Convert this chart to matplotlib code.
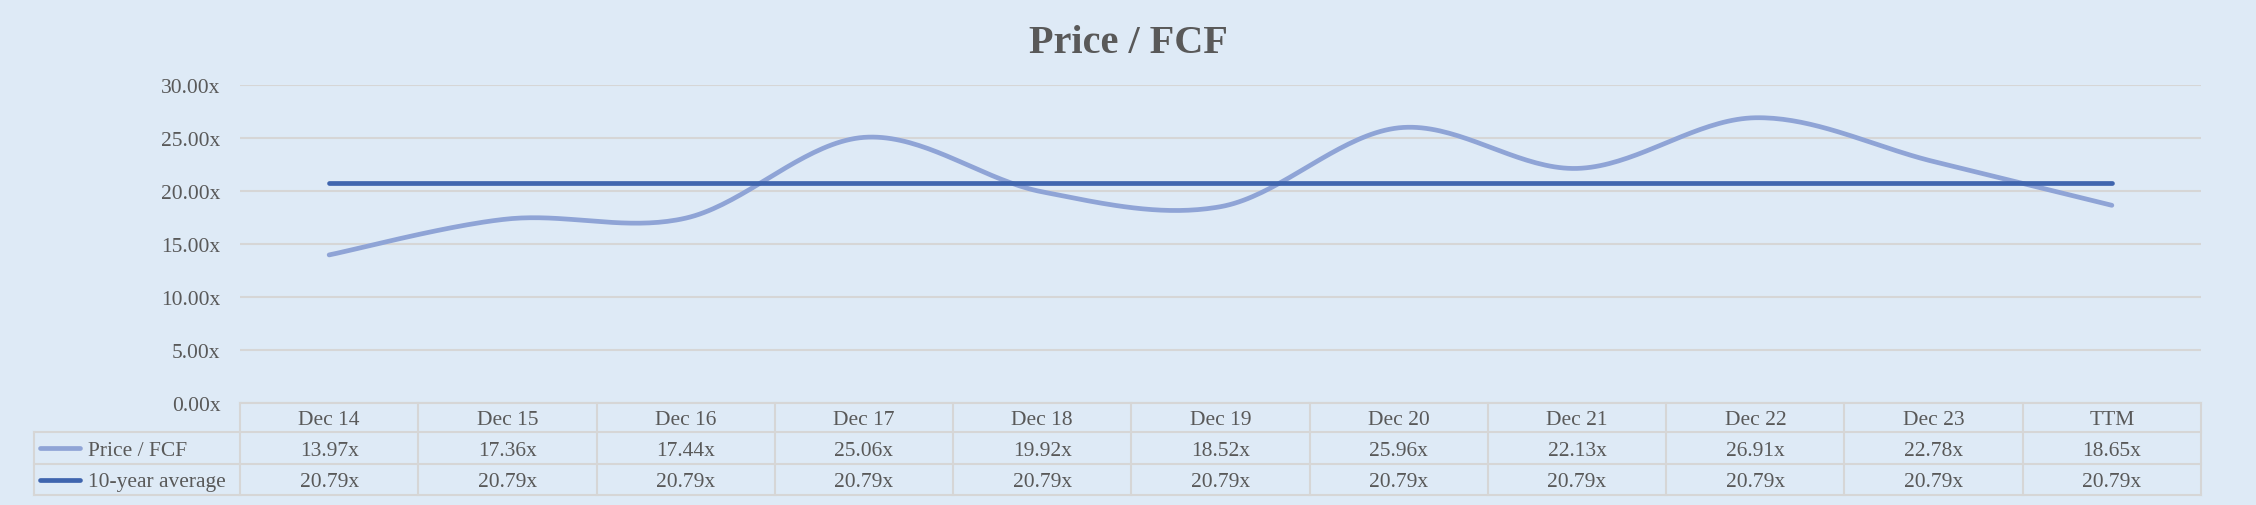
import numpy as np
import matplotlib
matplotlib.use("Agg")
import matplotlib.pyplot as plt
from matplotlib.lines import Line2D
import matplotlib.transforms as mtransforms

categories = ["Dec 14", "Dec 15", "Dec 16", "Dec 17", "Dec 18", "Dec 19",
              "Dec 20", "Dec 21", "Dec 22", "Dec 23", "TTM"]
price_fcf = [13.97, 17.36, 17.44, 25.06, 19.92, 18.52, 25.96, 22.13, 26.91, 22.78, 18.65]
avg_10y = [20.79] * 11
y_ticks = [0, 5, 10, 15, 20, 25, 30]
series_names = ["Price / FCF", "10-year average"]
title = "Price / FCF"

BG = "#DEEAF6"
GRID = "#D6D6D6"
TXT = "#595959"
C_LIGHT = "#8FA4D6"
C_DARK = "#3F65AE"
FONT = "Liberation Serif"
FS = 15.5
LINE_W = 3.4

W, H = 2256, 506
fig = plt.figure(figsize=(W / 100, H / 100), dpi=100, facecolor=BG)

L, R, B, T = 240, 2201, 404, 86
ax = fig.add_axes([L / W, 1 - B / H, (R - L) / W, (B - T) / H])
ax.set_facecolor(BG)
n = len(categories)
ax.set_xlim(-0.5, n - 0.5)
ax.set_ylim(0, 30)
for s in ax.spines.values():
    s.set_visible(False)
ax.set_yticks(y_ticks)
ax.set_yticklabels([f"{v:.2f}x" for v in y_ticks], fontfamily=FONT, fontsize=FS, color=TXT)
ax.tick_params(axis="y", length=0, pad=14)
ax.set_xticks([])
ax.grid(axis="y", color=GRID, linewidth=1.5)
ax.set_axisbelow(True)


def smooth(xs, ys, steps=40):
    P = np.column_stack([xs, ys]).astype(float)
    P_ext = np.vstack([P[0], P, P[-1]])
    out = []
    t = np.linspace(0, 1, steps)[:, None]
    for i in range(len(P) - 1):
        p0, p1, p2, p3 = P_ext[i], P_ext[i + 1], P_ext[i + 2], P_ext[i + 3]
        c1 = p1 + (p2 - p0) / 6.0
        c2 = p2 - (p3 - p1) / 6.0
        seg = ((1 - t) ** 3) * p1 + 3 * ((1 - t) ** 2) * t * c1 + 3 * (1 - t) * t ** 2 * c2 + t ** 3 * p2
        out.append(seg if i == 0 else seg[1:])
    arr = np.vstack(out)
    return arr[:, 0], arr[:, 1]


x = np.arange(n)
sx, sy = smooth(x, price_fcf)
ax.plot(sx, sy, color=C_LIGHT, linewidth=LINE_W, solid_capstyle="round", zorder=3)
ax.plot(x, avg_10y, color=C_DARK, linewidth=LINE_W, solid_capstyle="round", zorder=4)

# data table drawn beneath the axes
trans = mtransforms.blended_transform_factory(ax.transData, fig.transFigure)
ftrans = fig.transFigure


def fy(py):
    return 1 - py / H


rows = [404, 433, 465, 496]
baselines = [425, 456, 487]
TL = 34
lw = 1.5
fig.add_artist(Line2D([L / W, R / W], [fy(rows[0])] * 2, color=GRID, lw=lw, transform=ftrans))
for ry in rows[1:]:
    fig.add_artist(Line2D([TL / W, R / W], [fy(ry)] * 2, color=GRID, lw=lw, transform=ftrans))
for i in range(n + 1):
    xb = i - 0.5
    fig.add_artist(Line2D([xb, xb], [fy(rows[0]), fy(rows[3])], color=GRID, lw=lw, transform=trans))
fig.add_artist(Line2D([TL / W, TL / W], [fy(rows[1]), fy(rows[3])], color=GRID, lw=lw, transform=ftrans))

for i, c in enumerate(categories):
    fig.text(i, fy(baselines[0]), c, transform=trans, ha="center", va="baseline",
             fontfamily=FONT, fontsize=FS, color=TXT)
    fig.text(i, fy(baselines[1]), f"{price_fcf[i]:.2f}x", transform=trans, ha="center", va="baseline",
             fontfamily=FONT, fontsize=FS, color=TXT)
    fig.text(i, fy(baselines[2]), f"{avg_10y[i]:.2f}x", transform=trans, ha="center", va="baseline",
             fontfamily=FONT, fontsize=FS, color=TXT)

for k, (name, col) in enumerate(zip(series_names, [C_LIGHT, C_DARK])):
    yc = fy((rows[k + 1] + rows[k + 2]) / 2)
    fig.add_artist(Line2D([40 / W, 80 / W], [yc, yc], color=col, lw=LINE_W,
                          solid_capstyle="round", transform=ftrans))
    fig.text(88 / W, fy(baselines[k + 1]), name, ha="left", va="baseline",
             fontfamily=FONT, fontsize=FS, color=TXT)

fig.text(0.5, fy(53), title, ha="center", va="baseline", fontfamily=FONT,
         fontsize=29, fontweight="bold", color=TXT)

fig.savefig("out.png", dpi=100, facecolor=BG)
